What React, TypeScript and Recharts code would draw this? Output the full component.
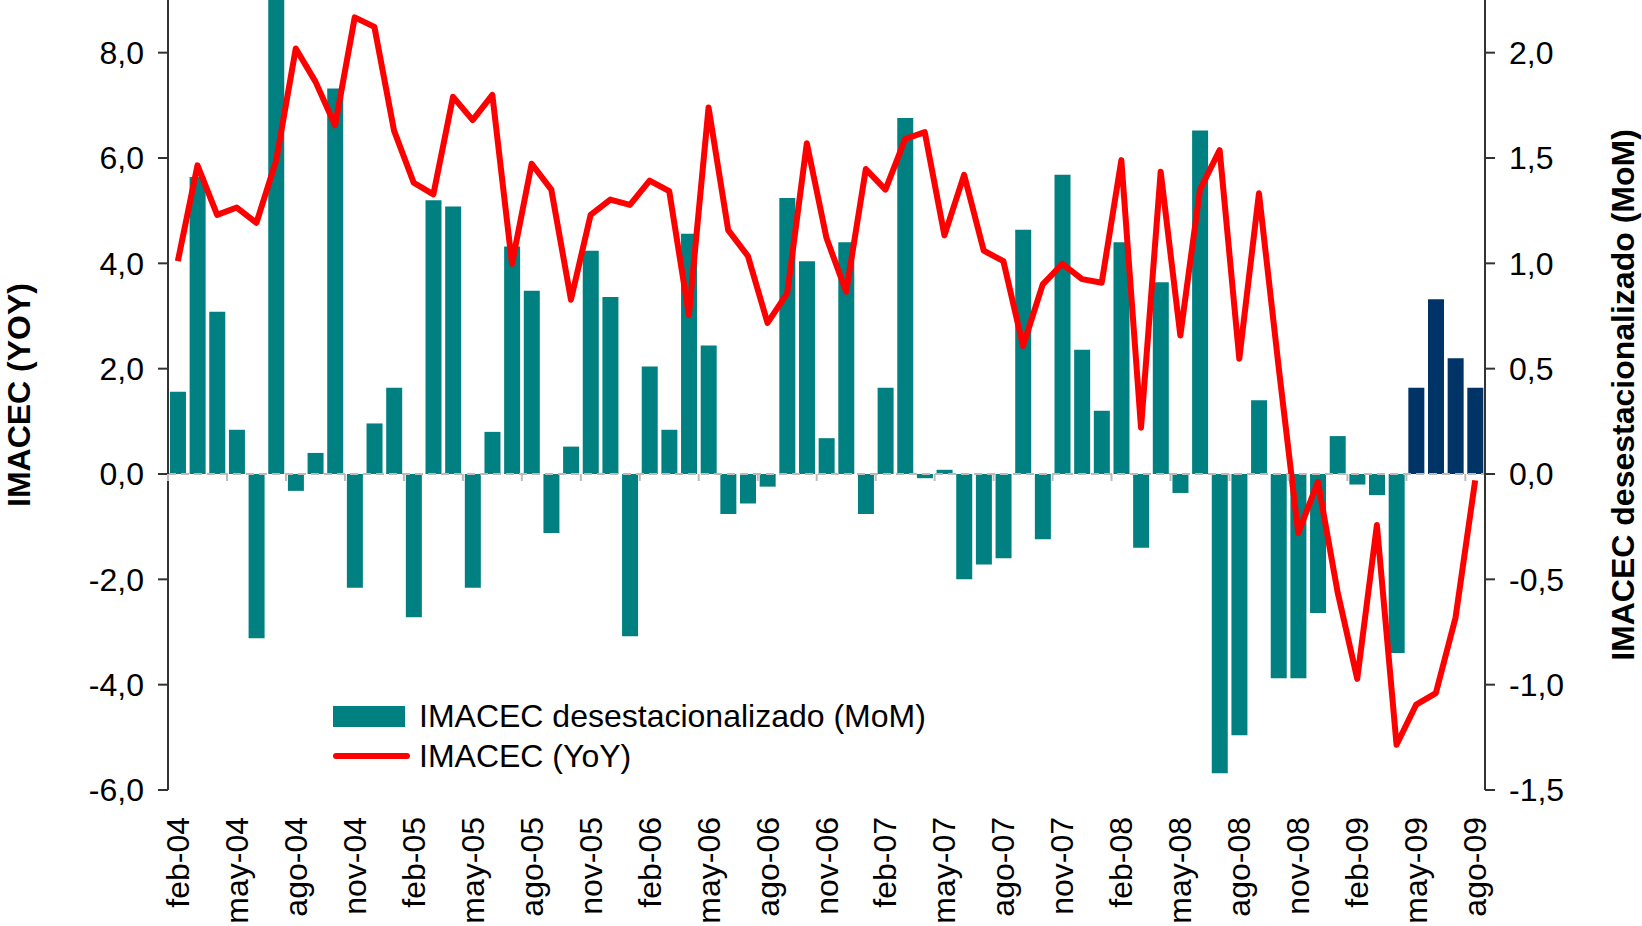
import { ComposedChart, Bar, Line, Cell, XAxis, YAxis, ReferenceLine } from "recharts";

// monthly IMACEC, feb-04 .. ago-09
const MONTHS = [
  "feb-04", "mar-04", "abr-04", "may-04", "jun-04", "jul-04", "ago-04", "sep-04", "oct-04", "nov-04", "dic-04",
  "ene-05", "feb-05", "mar-05", "abr-05", "may-05", "jun-05", "jul-05", "ago-05", "sep-05", "oct-05", "nov-05", "dic-05",
  "ene-06", "feb-06", "mar-06", "abr-06", "may-06", "jun-06", "jul-06", "ago-06", "sep-06", "oct-06", "nov-06", "dic-06",
  "ene-07", "feb-07", "mar-07", "abr-07", "may-07", "jun-07", "jul-07", "ago-07", "sep-07", "oct-07", "nov-07", "dic-07",
  "ene-08", "feb-08", "mar-08", "abr-08", "may-08", "jun-08", "jul-08", "ago-08", "sep-08", "oct-08", "nov-08", "dic-08",
  "ene-09", "feb-09", "mar-09", "abr-09", "may-09", "jun-09", "jul-09", "ago-09",
];

// desestacionalizado, month over month (right axis)
const MOM = [
  0.39, 1.41, 0.77, 0.21, -0.78, 2.45, -0.08, 0.1, 1.83, -0.54, 0.24,
  0.41, -0.68, 1.3, 1.27, -0.54, 0.2, 1.08, 0.87, -0.28, 0.13, 1.06, 0.84,
  -0.77, 0.51, 0.21, 1.14, 0.61, -0.19, -0.14, -0.06, 1.31, 1.01, 0.17, 1.1,
  -0.19, 0.41, 1.69, -0.02, 0.02, -0.5, -0.43, -0.4, 1.16, -0.31, 1.42, 0.59,
  0.3, 1.1, -0.35, 0.91, -0.09, 1.63, -1.42, -1.24, 0.35, -0.97, -0.97, -0.66,
  0.18, -0.05, -0.1, -0.85, 0.41, 0.83, 0.55, 0.41,
];

// year over year (left axis)
const YOY = [
  4.04, 5.86, 4.92, 5.06, 4.77, 5.95, 8.08, 7.45, 6.62, 8.67, 8.49,
  6.52, 5.53, 5.31, 7.16, 6.72, 7.2, 3.99, 5.89, 5.4, 3.31, 4.92, 5.21,
  5.11, 5.57, 5.37, 3.02, 6.96, 4.63, 4.14, 2.87, 3.43, 6.28, 4.48, 3.46,
  5.79, 5.4, 6.36, 6.49, 4.53, 5.68, 4.24, 4.04, 2.43, 3.6, 3.99, 3.7,
  3.63, 5.96, 0.88, 5.74, 2.63, 5.4, 6.15, 2.19, 5.33, 2.04, -1.12, -0.15,
  -2.24, -3.89, -0.97, -5.14, -4.38, -4.16, -2.73, -0.12,
];

const LEFT_TICKS = [-6, -4, -2, 0, 2, 4, 6, 8];
const RIGHT_TICKS = [-1.5, -1, -0.5, 0, 0.5, 1, 1.5, 2];
const HIGHLIGHT_LAST = 4; // latest months drawn in dark blue

const W = 1642;
const H = 926;
const LEFT_W = 168;
const RIGHT_W = 157;
const BOTTOM_H = 136;
const PLOT_W = W - LEFT_W - RIGHT_W;
const PLOT_H = H - BOTTOM_H;
const ZERO_Y = PLOT_H * (9 / 15);

const FONT = '"Liberation Sans", Arial, sans-serif';
const TEAL = "#008080";
const NAVY = "#003366";
const RED = "#ff0000";
const AXIS = "#333333";

const data = MONTHS.map((m, i) => ({ m, mom: MOM[i], yoy: YOY[i] }));

const fmt = (v: number) => v.toFixed(1).replace(".", ",");

function XTick(props: any) {
  const { x, payload } = props;
  const band = PLOT_W / MONTHS.length;
  return (
    <g>
      <line x1={x - band / 2} x2={x - band / 2} y1={ZERO_Y} y2={ZERO_Y + 7} stroke="#bbbbbb" strokeWidth={2} />
      <text
        transform={`translate(${x},${PLOT_H + 27}) rotate(-90)`}
        textAnchor="end"
        dominantBaseline="central"
        fontSize={32}
        fontFamily={FONT}
        fill="#000"
      >
        {payload.value}
      </text>
    </g>
  );
}

function AxisTitle({ viewBox, value, dx }: any) {
  const cx = viewBox.x + dx;
  const cy = viewBox.y + viewBox.height / 2;
  return (
    <text
      transform={`translate(${cx},${cy}) rotate(-90)`}
      textAnchor="middle"
      dominantBaseline="central"
      fontSize={32}
      fontWeight="bold"
      fontFamily={FONT}
      fill="#000"
    >
      {value}
    </text>
  );
}

function LegendBox() {
  const row = { display: "flex", alignItems: "center", height: 40 } as const;
  return (
    <div
      style={{
        position: "absolute",
        left: 333,
        top: 696,
        fontFamily: FONT,
        fontSize: 32,
        color: "#000",
        whiteSpace: "nowrap",
      }}
    >
      <div style={row}>
        <span style={{ display: "inline-block", width: 72, height: 21, background: TEAL, marginRight: 14 }} />
        <span>IMACEC desestacionalizado (MoM)</span>
      </div>
      <div style={row}>
        <span style={{ display: "inline-block", width: 77, height: 6, borderRadius: 3, background: RED, marginRight: 9 }} />
        <span>IMACEC (YoY)</span>
      </div>
    </div>
  );
}

export default function App() {
  return (
    <div style={{ position: "absolute", left: 0, top: 0, width: W, height: H, background: "#fff" }}>
      <ComposedChart width={W} height={H} data={data} margin={{ top: 0, right: 0, bottom: 0, left: 0 }} barCategoryGap="10%">
        <XAxis dataKey="m" height={BOTTOM_H} axisLine={false} tickLine={false} interval={2} tick={<XTick />} />
        <YAxis
          yAxisId="left"
          orientation="left"
          width={LEFT_W}
          domain={[-6, 9]}
          ticks={LEFT_TICKS}
          allowDataOverflow
          tickFormatter={fmt}
          stroke={AXIS}
          strokeWidth={2}
          tickSize={10}
          tickMargin={14}
          tick={{ fontSize: 32, fontFamily: FONT, fill: "#000" }}
          label={<AxisTitle value="IMACEC (YOY)" dx={19} />}
        />
        <YAxis
          yAxisId="right"
          orientation="right"
          width={RIGHT_W}
          domain={[-1.5, 2.25]}
          ticks={RIGHT_TICKS}
          allowDataOverflow
          tickFormatter={fmt}
          stroke={AXIS}
          strokeWidth={2}
          tickSize={10}
          tickMargin={14}
          tick={{ fontSize: 32, fontFamily: FONT, fill: "#000" }}
          label={<AxisTitle value="IMACEC desestacionalizado (MoM)" dx={138} />}
        />
        <Bar yAxisId="right" dataKey="mom" isAnimationActive={false}>
          {data.map((_, i) => (
            <Cell key={i} fill={i >= data.length - HIGHLIGHT_LAST ? NAVY : TEAL} />
          ))}
        </Bar>
        <ReferenceLine yAxisId="left" y={0} stroke="#bbbbbb" strokeWidth={2} strokeDasharray="8 5" />
        <Line
          yAxisId="left"
          dataKey="yoy"
          type="linear"
          stroke={RED}
          strokeWidth={6}
          strokeLinejoin="round"
          dot={false}
          activeDot={false}
          isAnimationActive={false}
        />
      </ComposedChart>
      <LegendBox />
    </div>
  );
}
